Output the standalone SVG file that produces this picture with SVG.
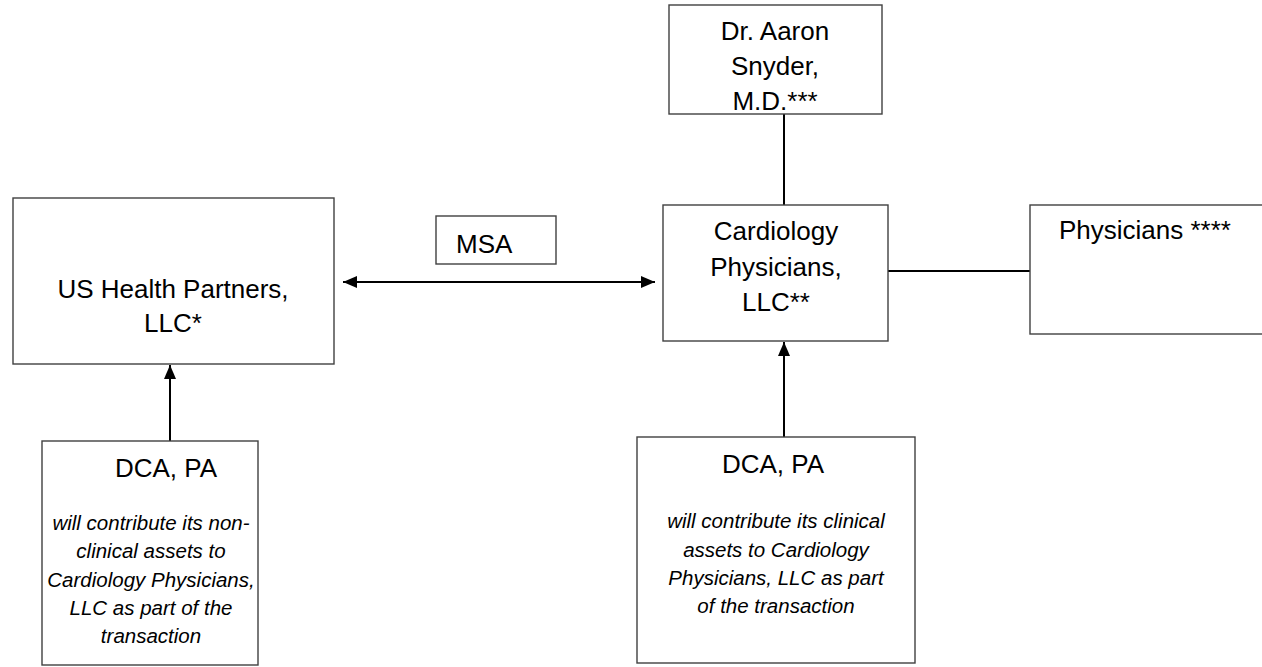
<svg xmlns="http://www.w3.org/2000/svg" width="1262" height="667" viewBox="0 0 1262 667">
<style>
.box{fill:#fff;stroke:#404040;stroke-width:1.4}
.t{font-family:"Liberation Sans",Arial,sans-serif;font-size:26px;fill:#000}
.i{font-family:"Liberation Sans",Arial,sans-serif;font-size:20.5px;font-style:italic;fill:#000}
.c{text-anchor:middle}
.ln{stroke:#000;stroke-width:2;fill:none}
</style>
<defs>
<marker id="ah" viewBox="0 0 14 12" refX="14" refY="6" markerWidth="14" markerHeight="12" markerUnits="userSpaceOnUse" orient="auto-start-reverse">
<path d="M0,0 L14,6 L0,12 Z" fill="#000"/>
</marker>
</defs>
<rect width="1262" height="667" fill="#fff"/>
<g id="connectors">
<line class="ln" x1="784" y1="114" x2="784" y2="205"/>
<line class="ln" x1="888" y1="271" x2="1033" y2="271"/>
<line class="ln" x1="343" y1="282" x2="655" y2="282" marker-start="url(#ah)" marker-end="url(#ah)"/>
<line class="ln" x1="170" y1="441" x2="170" y2="365" marker-end="url(#ah)"/>
<line class="ln" x1="784" y1="437" x2="784" y2="342" marker-end="url(#ah)"/>
</g>
<g id="dr-snyder">
<rect class="box" x="669" y="5" width="213" height="109"/>
<text class="t c" x="775" y="40">Dr. Aaron</text>
<text class="t c" x="775" y="75">Snyder,</text>
<text class="t c" x="775" y="110">M.D.***</text>
</g>
<g id="cardiology">
<rect class="box" x="663" y="205" width="225" height="136"/>
<text class="t c" x="776" y="240">Cardiology</text>
<text class="t c" x="776" y="276">Physicians,</text>
<text class="t c" x="776" y="311">LLC**</text>
</g>
<g id="physicians">
<rect class="box" x="1030" y="205" width="240" height="129"/>
<text class="t" x="1059" y="239">Physicians ****</text>
</g>
<g id="us-health">
<rect class="box" x="13" y="198" width="321" height="166"/>
<text class="t c" x="173" y="298">US Health Partners,</text>
<text class="t c" x="173" y="332">LLC*</text>
</g>
<g id="msa">
<rect class="box" x="436" y="216" width="120" height="48"/>
<text class="t" x="456" y="253">MSA</text>
</g>
<g id="dca-left">
<rect class="box" x="42" y="441" width="216" height="224"/>
<text class="t c" x="166" y="477">DCA, PA</text>
<text class="i c" x="151" y="530">will contribute its non-</text>
<text class="i c" x="151" y="558">clinical assets to</text>
<text class="i c" x="151" y="587">Cardiology Physicians,</text>
<text class="i c" x="151" y="615">LLC as part of the</text>
<text class="i c" x="151" y="643">transaction</text>
</g>
<g id="dca-right">
<rect class="box" x="637" y="437" width="278" height="226"/>
<text class="t c" x="773" y="473">DCA, PA</text>
<text class="i c" x="776" y="528">will contribute its clinical</text>
<text class="i c" x="776" y="557">assets to Cardiology</text>
<text class="i c" x="776" y="585">Physicians, LLC as part</text>
<text class="i c" x="776" y="613">of the transaction</text>
</g>
</svg>
